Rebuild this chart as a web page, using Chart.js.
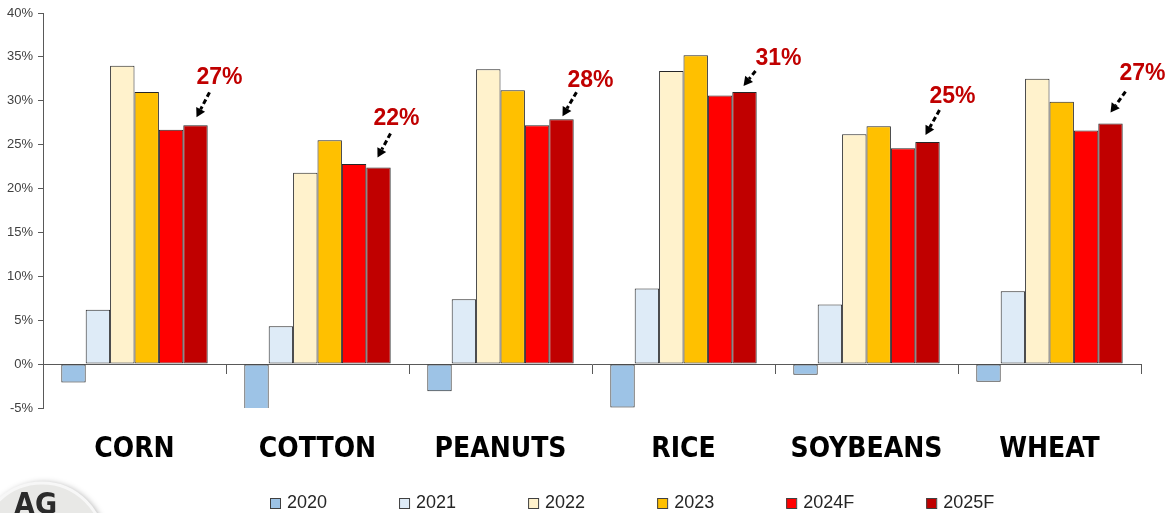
<!DOCTYPE html>
<html>
<head>
<meta charset="utf-8">
<script src="https://cdn.jsdelivr.net/npm/chart.js@4.4.1/dist/chart.umd.min.js"></script>
<style>
  html, body { margin: 0; padding: 0; background: #fff; }
  #wrap { width: 1165px; height: 513px; }
</style>
</head>
<body>
<div id="wrap"><canvas id="marginChart"></canvas></div>
<script>
// categories and series (percent)
const crops = ['CORN', 'COTTON', 'PEANUTS', 'RICE', 'SOYBEANS', 'WHEAT'];
const years = ['2020', '2021', '2022', '2023', '2024F', '2025F'];
const v2020 = [-2.1, -5.4, -3.1, -4.95, -1.2, -2.0];
const v2021 = [6.2, 4.3, 7.4, 8.6, 6.8, 8.3];
const v2022 = [34.0, 21.8, 33.6, 33.4, 26.2, 32.5];
const v2023 = [31.0, 25.5, 31.2, 35.2, 27.1, 29.9];
const v2024F = [26.7, 22.8, 27.2, 30.6, 24.6, 26.6];
const v2025F = [27.2, 22.4, 27.9, 31.0, 25.3, 27.4];
const yMin = -5, yMax = 40, yStep = 5;

const seriesColors = ['#9DC3E6', '#DEEBF7', '#FFF2CC', '#FFC000', '#FF0000', '#C00000'];
const series = [v2020, v2021, v2022, v2023, v2024F, v2025F];

Chart.defaults.font.family = '"Liberation Sans", Arial, sans-serif';
Chart.defaults.color = '#404040';

// red callouts over the 2025F bars: [label dx, label dy, arrow start dx, dy, tip dx, dy]
const calloutNudge = [
    [24, -48, 14, -33, 1, -8],
    [18, -49, 12, -34, -1, -10],
    [29, -39, 15, -27, 1, -3],
    [34, -33, 11, -21, -1, -6],
    [25, -45, 12, -32, -2, -7],
    [32, -50, 15, -32, 0, -11]
];

const callouts = {
    id: 'callouts',
    afterDatasetsDraw(chart) {
        const ctx = chart.ctx;
        const meta = chart.getDatasetMeta(5);
        meta.data.forEach((bar, i) => {
            const n = calloutNudge[i];
            const sx = bar.x + n[2], sy = bar.y + n[3];
            const tx = bar.x + n[4], ty = bar.y + n[5];
            const ang = Math.atan2(ty - sy, tx - sx);
            const head = 9;
            const bx = tx - head * Math.cos(ang), by = ty - head * Math.sin(ang);
            ctx.save();
            ctx.strokeStyle = '#000';
            ctx.lineWidth = 3;
            ctx.setLineDash([5, 3]);
            ctx.beginPath();
            ctx.moveTo(sx, sy);
            ctx.lineTo(bx, by);
            ctx.stroke();
            ctx.setLineDash([]);
            ctx.fillStyle = '#000';
            ctx.beginPath();
            ctx.moveTo(tx, ty);
            ctx.lineTo(bx + 5 * Math.sin(ang), by - 5 * Math.cos(ang));
            ctx.lineTo(bx - 5 * Math.sin(ang), by + 5 * Math.cos(ang));
            ctx.closePath();
            ctx.fill();
            ctx.font = 'bold 23px "Liberation Sans", Arial, sans-serif';
            ctx.fillStyle = '#C00000';
            ctx.textAlign = 'center';
            ctx.textBaseline = 'middle';
            ctx.fillText(Math.round(v2025F[i]) + '%', bar.x + n[0], bar.y + n[1]);
            ctx.restore();
        });
    }
};

// legend row and the corner logo
const footer = {
    id: 'footer',
    afterDraw(chart) {
        const ctx = chart.ctx;
        ctx.save();
        ctx.font = '18px "Liberation Sans", Arial, sans-serif';
        ctx.textBaseline = 'alphabetic';
        ctx.textAlign = 'left';
        let x = 270;
        chart.data.datasets.forEach(ds => {
            ctx.fillStyle = ds.backgroundColor;
            ctx.fillRect(x, 498, 10, 10);
            ctx.strokeStyle = '#404040';
            ctx.lineWidth = 1;
            ctx.strokeRect(x + 0.5, 498.5, 10, 10);
            ctx.fillStyle = '#262626';
            ctx.fillText(ds.label, x + 17, 508);
            x += 17 + ctx.measureText(ds.label).width + 72;
        });

        ctx.beginPath();
        ctx.arc(42, 545, 62, 0, Math.PI * 2);
        ctx.shadowColor = 'rgba(0,0,0,0.35)';
        ctx.shadowBlur = 6;
        ctx.shadowOffsetX = 2;
        ctx.fillStyle = '#e8e8e6';
        ctx.fill();
        ctx.shadowColor = 'transparent';
        ctx.strokeStyle = '#f7f7f7';
        ctx.lineWidth = 3;
        ctx.stroke();
        ctx.fillStyle = '#2b2b2b';
        ctx.font = 'bold 30px "DejaVu Sans Condensed", "DejaVu Sans", sans-serif';
        ctx.fillText('AG', 14, 514);
        ctx.restore();
    }
};

const marginChart = new Chart(document.getElementById('marginChart'), {
    type: 'bar',
    data: {
        labels: crops,
        datasets: years.map((yr, i) => ({
            label: yr,
            data: series[i],
            backgroundColor: seriesColors[i],
            borderColor: '#262626',
            borderWidth: 1,
            borderSkipped: false,
            categoryPercentage: 0.8,
            barPercentage: 1.0
        }))
    },
    options: {
        responsive: true,
        maintainAspectRatio: false,
        animation: false,
        layout: { padding: { top: 13, right: 24, bottom: 45, left: 0 } },
        plugins: {
            legend: { display: false },
            tooltip: { enabled: false }
        },
        scales: {
            x: {
                type: 'category',
                position: { y: 0 },
                offset: true,
                afterFit(scale) { scale.height = 0; },
                grid: {
                    offset: true,
                    drawOnChartArea: false,
                    drawTicks: true,
                    tickLength: 9,
                    color: '#595959'
                },
                border: { color: '#595959', width: 1 },
                ticks: { display: false }
            },
            x2: {
                type: 'category',
                axis: 'x',
                position: 'bottom',
                labels: crops,
                offset: true,
                afterFit(scale) { scale.height = 60; },
                grid: { display: false },
                border: { display: false },
                ticks: {
                    padding: 17,
                    color: '#000',
                    font: { family: '"DejaVu Sans Condensed", "DejaVu Sans", sans-serif', size: 28, weight: 'bold' }
                }
            },
            y: {
                min: yMin,
                max: yMax,
                afterFit(scale) { scale.width = 43; },
                ticks: {
                    stepSize: yStep,
                    padding: 5,
                    color: '#404040',
                    font: { size: 13 },
                    callback: v => v + '%'
                },
                grid: {
                    drawOnChartArea: false,
                    tickLength: 5,
                    color: '#595959'
                },
                border: { color: '#595959', width: 1 }
            }
        }
    },
    plugins: [callouts, footer]
});
</script>
</body>
</html>
